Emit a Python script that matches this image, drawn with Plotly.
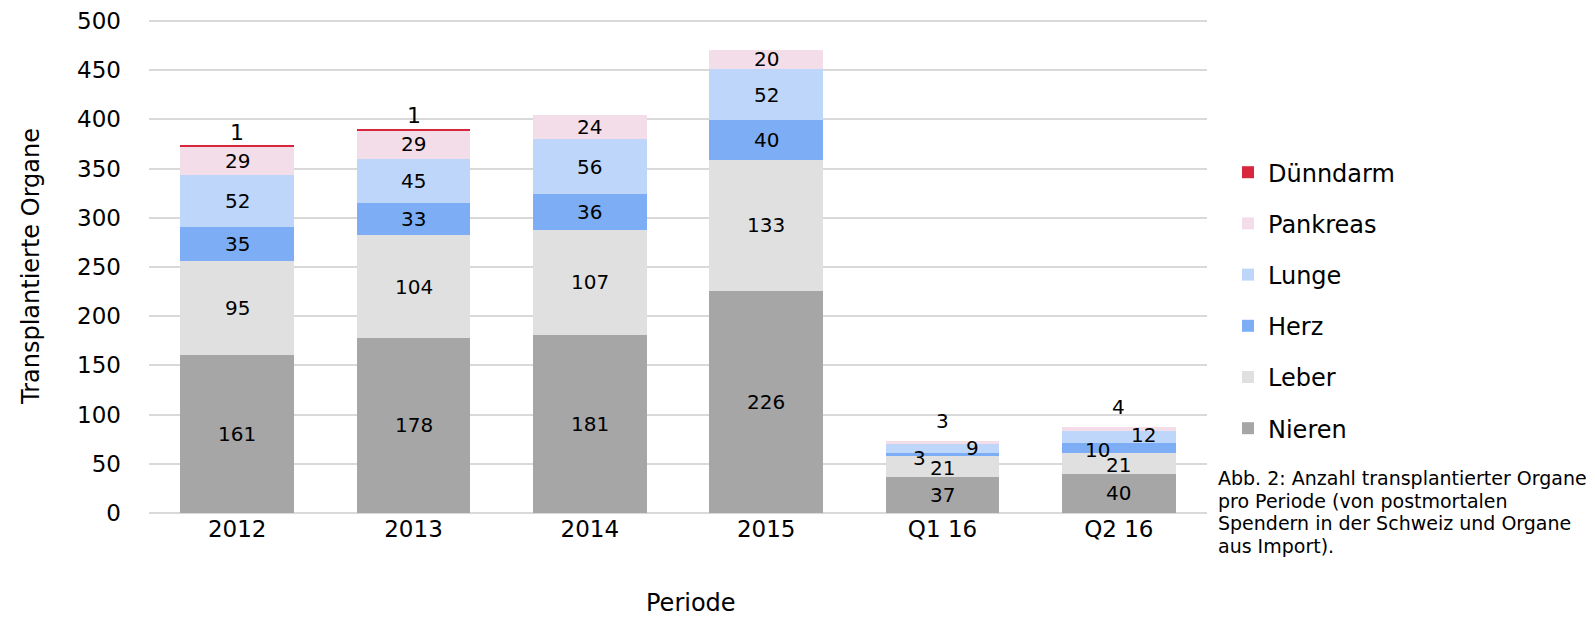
import plotly.graph_objects as go

categories = ["2012", "2013", "2014", "2015", "Q1 16", "Q2 16"]
nieren = [161, 178, 181, 226, 37, 40]
leber = [95, 104, 107, 133, 21, 21]
herz = [35, 33, 36, 40, 3, 10]
lunge = [52, 45, 56, 52, 9, 12]
pankreas = [29, 29, 24, 20, 3, 4]
duenndarm = [1, 1, 0, 0, 0, 0]
caption_lines = [
    "Abb. 2: Anzahl transplantierter Organe",
    "pro Periode (von postmortalen",
    "Spendern in der Schweiz und Organe",
    "aus Import).",
]

series = [
    ("Nieren", nieren, "#A6A6A6"),
    ("Leber", leber, "#E0E0E0"),
    ("Herz", herz, "#7DAEF5"),
    ("Lunge", lunge, "#BED6F9"),
    ("Pankreas", pankreas, "#F2DDE8"),
    ("Dünndarm", duenndarm, "#D7263D"),
]

FONT = "DejaVu Sans"
fig = go.Figure()
for i, (name, vals, col) in enumerate(series):
    fig.add_trace(go.Bar(x=categories, y=vals, name=name, marker=dict(color=col, line=dict(width=0)),
                         legendgroup=name, legendrank=len(series) - i, hoverinfo="x+y+name"))

# data labels (x given as category index)
annotations = []
n = len(categories)
base = [0] * n
for name, vals, col in series:
    for j, cat in enumerate(categories):
        v = vals[j]
        if v == 0:
            continue
        center = base[j] + v / 2
        small = cat.startswith("Q")
        xshift, yshift, yanchor, y = 0, 0, "middle", center
        fsize = 20
        if name == "Dünndarm":
            y, yanchor, yshift, fsize = base[j] + v, "bottom", -1, 22
        elif name == "Pankreas" and small:
            y, yanchor, yshift = base[j] + v, "bottom", 6
        elif name == "Herz" and small:
            xshift = -23 if j == 4 else -21
            yshift = -4 if j == 4 else -2
        elif name == "Lunge" and small:
            xshift = 30 if j == 4 else 25
            yshift = 1 if j == 4 else 2
        elif name == "Leber" and small:
            yshift = -2
        annotations.append(dict(x=j, y=y, xref="x", yref="y", text=str(v), showarrow=False,
                                xshift=xshift, yshift=yshift, yanchor=yanchor,
                                font=dict(family=FONT, size=fsize, color="#000")))
    base = [b + v for b, v in zip(base, vals)]

W, H = 1595, 617
ML, MR, MT, MB = 141, 396, 11, 112
pw, ph = W - ML - MR, H - MT - MB

for k, line in enumerate(caption_lines):
    ypx = 470 + k * 22.7
    annotations.append(dict(
        x=(1208 - ML) / pw, y=(H - MB - ypx) / ph, xref="paper", yref="paper",
        xanchor="left", yanchor="middle", text=line, align="left", showarrow=False,
        font=dict(family=FONT, size=19, color="#000")))

# x axis title as annotation (slightly right of centre, as in the reference)
annotations.append(dict(
    x=(683 - ML) / pw, y=(H - MB - 595) / ph, xref="paper", yref="paper",
    xanchor="center", yanchor="middle", text="Periode", showarrow=False,
    font=dict(family=FONT, size=24, color="#000")))

fig.update_layout(
    width=W, height=H,
    margin=dict(l=ML, r=MR, t=MT, b=MB, autoexpand=False),
    paper_bgcolor="white", plot_bgcolor="white",
    barmode="stack", bargap=0.356,
    font=dict(family=FONT, color="#000"),
    showlegend=True,
    legend=dict(traceorder="grouped", tracegroupgap=17, x=(1220 - ML) / pw, xanchor="left",
                y=1 - (292.6 - MT) / ph, yanchor="middle", font=dict(family=FONT, size=24),
                itemwidth=30),
    annotations=annotations,
    xaxis=dict(type="category", range=[-0.5, len(categories) - 0.5], autorange=False,
               tickfont=dict(size=23), automargin=False,
               showgrid=False, showline=False),
    yaxis=dict(range=[0, 502], autorange=False, tickvals=[0, 50, 100, 150, 200, 250, 300, 350, 400, 450, 500],
               tickfont=dict(size=23), showgrid=True, automargin=False,
               gridcolor="#D9D9D9", gridwidth=1.5, zeroline=True, zerolinecolor="#D9D9D9",
               zerolinewidth=1.5, ticklabelstandoff=27,
               title=dict(text="Transplantierte Organe", font=dict(size=24), standoff=30)),
)

fig.write_html("out.html")
